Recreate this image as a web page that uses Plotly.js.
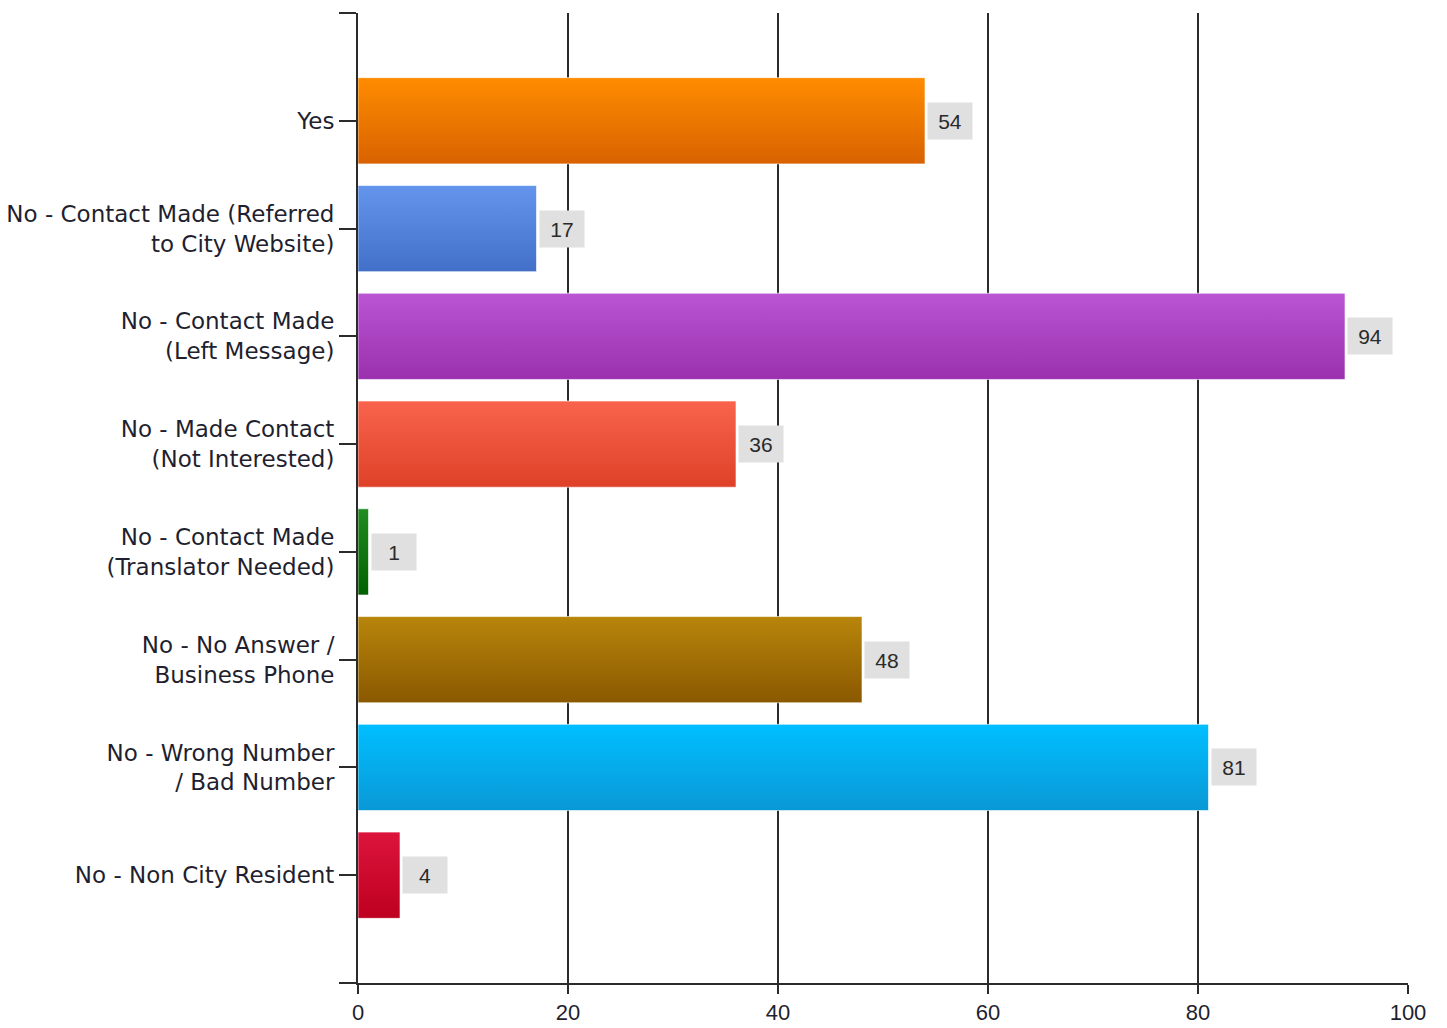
<!DOCTYPE html>
<html>
<head>
<meta charset="utf-8">
<script src="https://cdn.plot.ly/plotly-3.0.1.min.js"></script>
<style>html,body{margin:0;padding:0;background:#fff}#chart{width:1447px;height:1028px}</style>
</head>
<body>
<div id="chart"></div>
<script>
const categories = [
  "Yes",
  "No - Contact Made (Referred<br>to City Website)",
  "No - Contact Made<br>(Left Message)",
  "No - Made Contact<br>(Not Interested)",
  "No - Contact Made<br>(Translator Needed)",
  "No - No Answer /<br>Business Phone",
  "No - Wrong Number<br>/ Bad Number",
  "No - Non City Resident"
];
const counts = [54, 17, 94, 36, 1, 48, 81, 4];
const topColors = ["#FF8C00", "#6495ED", "#BA55D3", "#F9634C", "#228B22", "#B8860B", "#00BFFF", "#DC143C"];
const bottomColors = ["#D86200", "#4270C8", "#9A30AE", "#DE4128", "#006000", "#8A5800", "#0A98D6", "#BE0020"];
const xTicks = [0, 20, 40, 60, 80, 100];

const positions = categories.map((c, i) => i);

const trace = {
  type: "bar",
  orientation: "h",
  y: positions,
  x: counts,
  width: 0.8,
  marker: { color: topColors, line: { width: 1, color: "rgba(255,255,255,0.6)" } },
  hoverinfo: "x+text",
  text: categories,
  textposition: "none"
};

const annotations = counts.map((v, i) => ({
  x: v, y: i, xref: "x", yref: "y",
  text: String(v),
  showarrow: false,
  xanchor: "left",
  xshift: 2,
  width: 42,
  height: 34,
  align: "center",
  bgcolor: "#E0E0E0",
  font: { family: "Liberation Sans, Arial, sans-serif", size: 21, color: "#2a2a2a" }
}));

const layout = {
  width: 1447, height: 1028,
  margin: { l: 358, r: 39, t: 13, b: 45 },
  paper_bgcolor: "#ffffff",
  plot_bgcolor: "#ffffff",
  showlegend: false,
  font: { family: "Liberation Sans, Arial, sans-serif", size: 23, color: "#1f1f2f" },
  xaxis: {
    range: [0, 100],
    tickvals: xTicks,
    ticks: "outside", ticklen: 9, tickwidth: 2, tickcolor: "#2b2b2b",
    showgrid: true, gridcolor: "#2b2b2b", gridwidth: 2,
    showline: true, linecolor: "#2b2b2b", linewidth: 2,
    zeroline: false,
    tickfont: { family: "Liberation Sans, Arial, sans-serif", size: 22, color: "#1f1f2f" },
    fixedrange: true
  },
  yaxis: {
    range: [8, -1],
    tickvals: [-1].concat(positions, [8]),
    ticktext: [""].concat(categories, [""]),
    ticks: "outside", ticklen: 17, tickwidth: 2, tickcolor: "#2b2b2b",
    showgrid: false,
    showline: true, linecolor: "#2b2b2b", linewidth: 2,
    zeroline: false,
    tickfont: { family: "DejaVu Sans, sans-serif", size: 23, color: "#1f1f2f" },
    fixedrange: true
  },
  annotations: annotations
};

Plotly.newPlot("chart", [trace], layout, { displayModeBar: false, staticPlot: true }).then(gd => {
  const svg = gd.querySelector("svg.main-svg");
  const ns = "http://www.w3.org/2000/svg";
  let defs = svg.querySelector("defs");
  if (!defs) { defs = document.createElementNS(ns, "defs"); svg.insertBefore(defs, svg.firstChild); }
  topColors.forEach((c, i) => {
    const g = document.createElementNS(ns, "linearGradient");
    g.setAttribute("id", "barGrad" + i);
    g.setAttribute("x1", "0"); g.setAttribute("y1", "0");
    g.setAttribute("x2", "0"); g.setAttribute("y2", "1");
    const s1 = document.createElementNS(ns, "stop");
    s1.setAttribute("offset", "0"); s1.setAttribute("stop-color", c);
    const s2 = document.createElementNS(ns, "stop");
    s2.setAttribute("offset", "1"); s2.setAttribute("stop-color", bottomColors[i]);
    g.appendChild(s1); g.appendChild(s2);
    defs.appendChild(g);
  });
  gd.querySelectorAll(".barlayer .point path").forEach((p, i) => {
    p.style.fill = "url(#barGrad" + i + ")";
  });
});
</script>
</body>
</html>
